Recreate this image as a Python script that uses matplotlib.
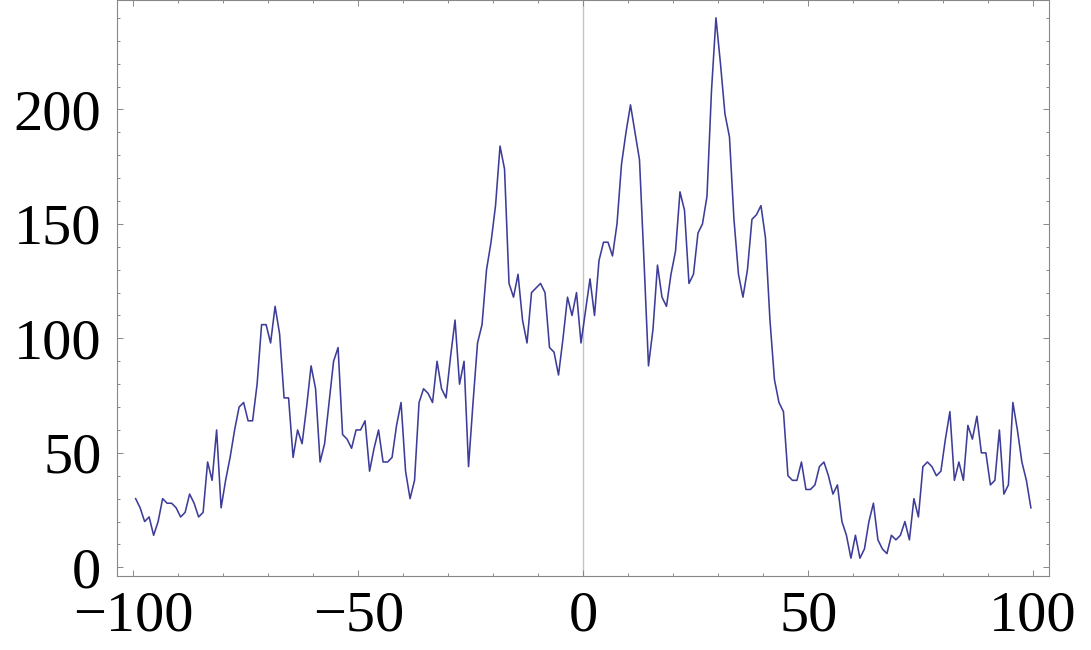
import numpy as np
import matplotlib
matplotlib.use("Agg")
import matplotlib.pyplot as plt
from matplotlib.ticker import MultipleLocator

# bin centres -99.5 ... 99.5
x_values = np.arange(-99.5, 100.0, 1.0)
y_values = [
    30, 26, 20, 22, 14, 20, 30, 28, 28, 26,
    22, 24, 32, 28, 22, 24, 46, 38, 60, 26,
    38, 48, 60, 70, 72, 64, 64, 80, 106, 106,
    98, 114, 102, 74, 74, 48, 60, 54, 70, 88,
    78, 46, 54, 72, 90, 96, 58, 56, 52, 60,
    60, 64, 42, 52, 60, 46, 46, 48, 62, 72,
    42, 30, 38, 72, 78, 76, 72, 90, 78, 74,
    92, 108, 80, 90, 44, 72, 98, 106, 130, 142,
    158, 184, 174, 124, 118, 128, 108, 98, 120, 122,
    124, 120, 96, 94, 84, 100, 118, 110, 120, 98,
    112, 126, 110, 134, 142, 142, 136, 150, 176, 190,
    202, 190, 178, 134, 88, 104, 132, 118, 114, 128,
    138, 164, 156, 124, 128, 146, 150, 162, 208, 240,
    220, 198, 188, 152, 128, 118, 130, 152, 154, 158,
    144, 108, 82, 72, 68, 40, 38, 38, 46, 34,
    34, 36, 44, 46, 40, 32, 36, 20, 14, 4,
    14, 4, 8, 20, 28, 12, 8, 6, 14, 12,
    14, 20, 12, 30, 22, 44, 46, 44, 40, 42,
    56, 68, 38, 46, 38, 62, 56, 66, 50, 50,
    36, 38, 60, 32, 36, 72, 60, 46, 38, 26,
]
x_ticks = [-100, -50, 0, 50, 100]
y_ticks = [0, 50, 100, 150, 200]

plt.rcParams['font.family'] = ['Liberation Serif', 'DejaVu Serif']

fig = plt.figure(figsize=(10.91, 6.5), dpi=100)
ax = fig.add_axes([0.107, 0.1138, 0.8548, 0.8855])

ax.axvline(0, color='#c4c4c4', lw=1.0, zorder=1)
ax.plot(x_values, y_values, color='#3d3d99', lw=1.15, zorder=2)

ax.set_xlim(-103.7, 103.6)
ax.set_ylim(-3.8, 247.6)

ax.set_xticks(x_ticks)
ax.set_yticks(y_ticks)
ax.xaxis.set_minor_locator(MultipleLocator(10))
ax.yaxis.set_minor_locator(MultipleLocator(10))

for s in ax.spines.values():
    s.set_color('#888888')
    s.set_linewidth(0.8)

ax.tick_params(which='both', direction='in', top=True, right=True,
               color='#888888', width=0.7)
ax.tick_params(which='major', length=4.0)
ax.tick_params(which='minor', length=2.0)
ax.tick_params(axis='x', which='major', labelsize=42, pad=10.5)
ax.tick_params(axis='y', which='major', labelsize=42, pad=11)

fig.savefig('out.png', dpi=100)
